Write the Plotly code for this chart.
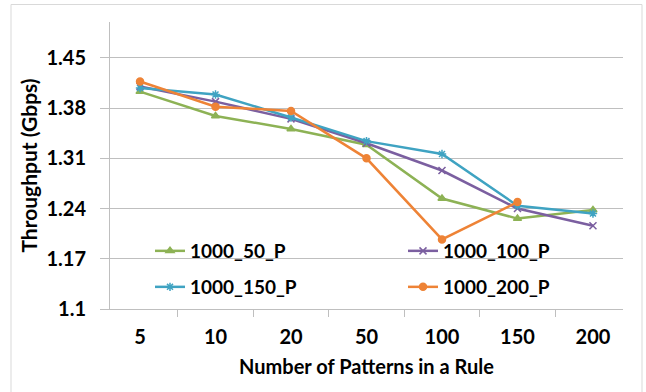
import plotly.graph_objects as go

categories = ["5", "10", "20", "50", "100", "150", "200"]
s50 = [1.403, 1.369, 1.351, 1.329, 1.254, 1.226, 1.238]
s100 = [1.410, 1.389, 1.365, 1.331, 1.293, 1.240, 1.216]
s150 = [1.408, 1.399, 1.367, 1.334, 1.316, 1.244, 1.233]
s200 = [1.417, 1.382, 1.376, 1.310, 1.197, 1.249, None]
names = ["1000_50_P", "1000_100_P", "1000_150_P", "1000_200_P"]
yticks = [1.1, 1.17, 1.24, 1.31, 1.38, 1.45]

colors = ["#8DB255", "#7B5FA0", "#3FA3C2", "#EE8336"]
symbols = ["triangle-up", "x-thin-open", "asterisk-open", "circle"]
series = [s50, s100, s150, s200]
legends = ["legend", "legend2", "legend3", "legend4"]

L, R, T, B = 110, 623, 22, 309
W, H = 646, 392
pw, ph = R - L, B - T

def px(X):
    return (X - L) / pw

def py(Y):
    return (B - Y) / ph

FONT = "Lato"
fig = go.Figure()
for name, vals, c, sym, lg in zip(names, series, colors, symbols, legends):
    fig.add_trace(go.Scatter(
        x=categories, y=vals, name=name, mode="lines+markers",
        line=dict(color=c, width=2.5),
        marker=dict(symbol=sym, size=7, color=c, line=dict(color=c, width=1.5)),
        legend=lg, connectgaps=False, showlegend=True,
    ))

leg_pos = {"legend": (150, 251), "legend2": (403, 251), "legend3": (150, 287), "legend4": (403, 287)}
legend_cfg = {}
for lg, (X, Y) in leg_pos.items():
    legend_cfg[lg] = dict(
        x=px(X), y=py(Y), xanchor="left", yanchor="middle",
        bgcolor="rgba(0,0,0,0)", borderwidth=0, itemwidth=30,
        font=dict(family=FONT, size=19, color="#000000", weight="bold"),
    )

fig.update_layout(
    width=W, height=H, showlegend=True,
    margin=dict(l=L, r=W - R, t=T, b=H - B),
    paper_bgcolor="white", plot_bgcolor="white",
    font=dict(family=FONT, color="#000000"),
    **legend_cfg,
    xaxis=dict(
        type="category", showgrid=False, showline=True, linecolor="#BFBFBF", linewidth=1,
        ticks="outside", tickson="boundaries", ticklen=7, tickcolor="#BFBFBF",
        ticklabelstandoff=10,
        tickfont=dict(family=FONT, size=20, weight="bold"),
        title=dict(text="Number of Patterns in a Rule", font=dict(family=FONT, size=20, weight="bold"), standoff=12),
        fixedrange=True,
    ),
    yaxis=dict(
        range=[1.1, 1.5], tickvals=yticks, ticktext=[str(v) for v in yticks],
        showgrid=True, gridcolor="#BFBFBF", gridwidth=1,
        showline=True, linecolor="#BFBFBF", linewidth=1,
        ticks="outside", ticklen=9, tickcolor="#BFBFBF",
        ticklabelstandoff=10,
        tickfont=dict(family=FONT, size=20, weight="bold"),
        title=dict(text="Throughput (Gbps)", font=dict(family=FONT, size=21, weight="bold"), standoff=3),
        zeroline=False, fixedrange=True,
    ),
    shapes=[dict(type="rect", xref="paper", yref="paper",
                 x0=px(11), x1=px(642), y0=py(400), y1=py(4.5),
                 line=dict(color="#D9D9D9", width=1), layer="below")],
)

fig.write_html("out.html")
